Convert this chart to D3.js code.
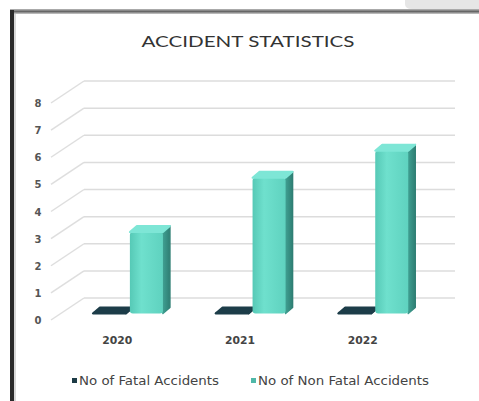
<!DOCTYPE html>
<html><head><meta charset="utf-8">
<script src="https://cdn.jsdelivr.net/npm/d3@7"></script>
<style>html,body{margin:0;padding:0;background:#fff;}svg{display:block;}</style>
</head><body>
<script>
const categories = ["2020", "2021", "2022"];
const seriesNames = ["No of Fatal Accidents", "No of Non Fatal Accidents"];
const fatal = [0, 0, 0];
const nonFatal = [3, 5, 6];
const yTicks = [0, 1, 2, 3, 4, 5, 6, 7, 8];
const title = "ACCIDENT STATISTICS";

const W = 479, H = 401;
const svg = d3.select("body").append("svg").attr("width", W).attr("height", H);
const defs = svg.append("defs");

// frame
svg.append("path").attr("d", "M405,0 H479 V9 H412 Q405,9 405,4 Z").attr("fill", "#e6e6e6");
const tg = defs.append("linearGradient").attr("id", "topb").attr("x1", 0).attr("x2", 0).attr("y1", 0).attr("y2", 1);
tg.append("stop").attr("offset", "0").attr("stop-color", "#bbb");
tg.append("stop").attr("offset", "0.5").attr("stop-color", "#666");
tg.append("stop").attr("offset", "1").attr("stop-color", "#ccc");
svg.append("rect").attr("x", 10).attr("y", 9).attr("width", W - 10).attr("height", 5).attr("fill", "url(#topb)");
svg.append("rect").attr("x", 10).attr("y", 10).attr("width", 4).attr("height", H - 10).attr("fill", "#2a2a2a");
svg.append("rect").attr("x", 14).attr("y", 14).attr("width", 2).attr("height", H - 14).attr("fill", "#d8d8d8");

// title
svg.append("text").attr("x", 248).attr("y", 47).attr("text-anchor", "middle")
  .attr("font-family", "Lato, 'Liberation Sans', sans-serif").attr("font-size", 16)
  .attr("fill", "#333").attr("textLength", 213).attr("lengthAdjust", "spacingAndGlyphs").text(title);

// scales
const y = d3.scaleLinear().domain([0, 8]).range([320, 103]);
const DX = 33, DY = -22; // full depth offset to back wall
const x0 = d3.scaleBand().domain(categories).range([58, 426]);
const x1 = d3.scaleBand().domain(seriesNames).range([35, 105]).paddingInner(0.108);
const fBar = 0.3; // depth position of bar front plane
const bdx = 7, bdy = -6; // bar depth

// gridlines (3D walls)
const g = svg.append("g");
yTicks.forEach(v => {
  g.append("line").attr("x1", 51).attr("y1", y(v)).attr("x2", 51 + DX).attr("y2", y(v) + DY)
    .attr("stroke", "#dedede").attr("stroke-width", 1.5);
  g.append("line").attr("x1", 51 + DX).attr("y1", y(v) + DY).attr("x2", 455).attr("y2", y(v) + DY)
    .attr("stroke", "#dcdcdc").attr("stroke-width", 1.5);
});

// y tick labels
svg.append("g").selectAll("text").data(yTicks).join("text")
  .attr("x", 38).attr("y", d => y(d) + 4).attr("text-anchor", "middle")
  .attr("font-family", "'DejaVu Sans', sans-serif").attr("font-size", 10).attr("font-weight", "bold")
  .attr("fill", "#555").text(d => d);

// gradients for bars
const fg = defs.append("linearGradient").attr("id", "tealFront").attr("x1", 0).attr("x2", 1);
fg.append("stop").attr("offset", "0").attr("stop-color", "#56c9b6");
fg.append("stop").attr("offset", "0.35").attr("stop-color", "#6fe0cd");
fg.append("stop").attr("offset", "1").attr("stop-color", "#5fd2bf");
const sg = defs.append("linearGradient").attr("id", "tealSide").attr("x1", 0).attr("x2", 1);
sg.append("stop").attr("offset", "0").attr("stop-color", "#3f9f91");
sg.append("stop").attr("offset", "1").attr("stop-color", "#2f7f74");

const bars = svg.append("g");
function drawBar(cat, s, v, colors) {
  const left = x0(cat) + x1(s) + DX * fBar - 10;
  const w = x1.bandwidth();
  const bottom = y(0) + DY * fBar;
  const top = y(v) + DY * fBar;
  const gBar = bars.append("g");
  // side
  gBar.append("path").attr("d", `M${left + w},${top} L${left + w + bdx},${top + bdy} L${left + w + bdx},${bottom + bdy} L${left + w},${bottom} Z`)
    .attr("fill", colors.side).attr("stroke", colors.side).attr("stroke-width", 1.5).attr("stroke-linejoin", "round");
  // front
  if (bottom - top > 0.5) {
    gBar.append("rect").attr("x", left).attr("y", top).attr("width", w).attr("height", bottom - top)
      .attr("rx", 3).attr("fill", colors.front);
  } else {
    gBar.append("rect").attr("x", left).attr("y", bottom - 1.5).attr("width", w).attr("height", 2)
      .attr("fill", colors.side);
  }
  // top
  gBar.append("path").attr("d", `M${left},${top} L${left + w},${top} L${left + w + bdx},${top + bdy} L${left + bdx},${top + bdy} Z`)
    .attr("fill", colors.top).attr("stroke", colors.top).attr("stroke-width", 2).attr("stroke-linejoin", "round");
}
categories.forEach((c, i) => {
  drawBar(c, seriesNames[0], fatal[i], { front: "#1d3b46", side: "#0f2730", top: "#1d3d49" });
  drawBar(c, seriesNames[1], nonFatal[i], { front: "url(#tealFront)", side: "url(#tealSide)", top: "#7ee6d6" });
});

// category labels
svg.append("g").selectAll("text").data(categories).join("text")
  .attr("x", d => x0(d) + x0.bandwidth() / 2 - 2).attr("y", 344).attr("text-anchor", "middle")
  .attr("font-family", "'DejaVu Sans Condensed', 'DejaVu Sans', sans-serif").attr("font-size", 11)
  .attr("font-weight", "bold").attr("fill", "#444").attr("textLength", 30).attr("lengthAdjust", "spacingAndGlyphs")
  .text(d => d);

// legend
const legendX = [72, 251];
const legendLen = [140, 171];
const legendColors = ["#1d3b46", "#4fb8a8"];
const lg = svg.append("g");
seriesNames.forEach((s, i) => {
  lg.append("rect").attr("x", legendX[i]).attr("y", 378).attr("width", 5).attr("height", 5).attr("fill", legendColors[i]);
  lg.append("text").attr("x", legendX[i] + 7).attr("y", 385)
    .attr("font-family", "'DejaVu Sans Condensed', 'DejaVu Sans', sans-serif").attr("font-size", 12)
    .attr("fill", "#444").attr("textLength", legendLen[i]).attr("lengthAdjust", "spacingAndGlyphs").text(s);
});
</script>
</body></html>
